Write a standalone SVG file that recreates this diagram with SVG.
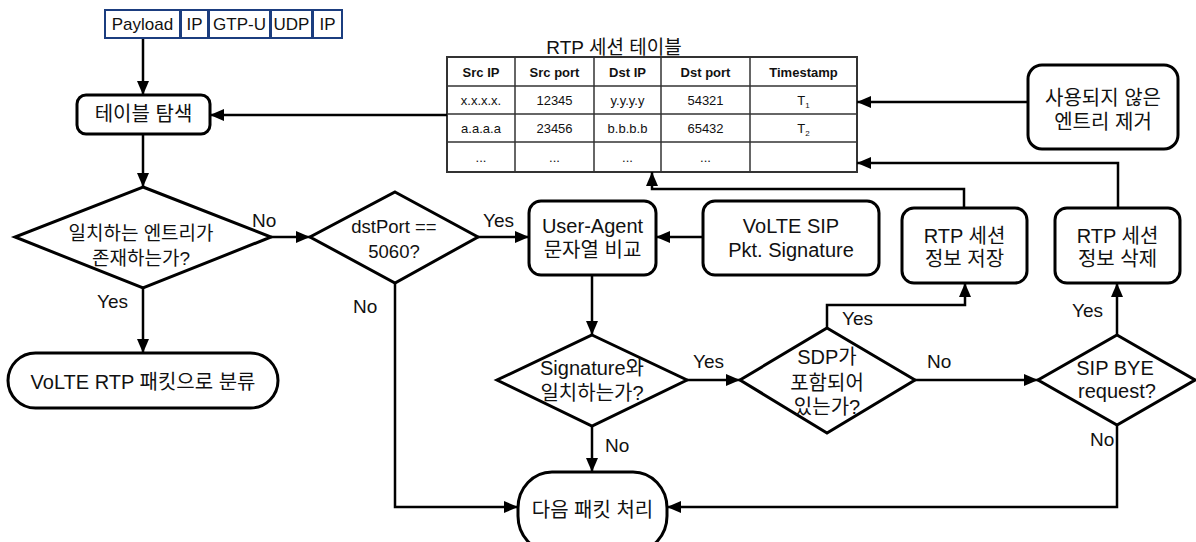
<svg xmlns="http://www.w3.org/2000/svg" width="1196" height="542" viewBox="0 0 1196 542">
  <style>
    text { font-family: "Liberation Sans", "Noto Sans CJK KR", Arial, sans-serif; fill: #111; text-anchor: middle; }
    .node { fill: #fff; stroke: #000; stroke-width: 3; }
    .hdr { fill: #fff; stroke: #1b3d7f; stroke-width: 2; }
    .t20 { font-size: 20px; }
    .t19 { font-size: 19px; }
    .lbl { font-size: 19px; text-anchor: start; }
    .conn { fill: none; stroke: #000; stroke-width: 2.5; marker-end: url(#arrow); }
    .grid { fill: #fff; stroke: #333; stroke-width: 2; }
    .gl { stroke: #333; stroke-width: 1.5; }
    .th { font-size: 13px; font-weight: bold; }
    .td { font-size: 13px; }
  </style>
  <defs>
    <marker id="arrow" markerUnits="userSpaceOnUse" markerWidth="15" markerHeight="12" refX="14" refY="6" orient="auto">
      <path d="M0,0 L14,6 L0,12 z" fill="#000"/>
    </marker>
  </defs>

  <!-- packet header -->
  <g id="packet">
    <rect class="hdr" x="105" y="10" width="75" height="28"/>
    <rect class="hdr" x="181" y="10" width="27" height="28"/>
    <rect class="hdr" x="209" y="10" width="61" height="28"/>
    <rect class="hdr" x="271" y="10" width="41" height="28"/>
    <rect class="hdr" x="313" y="10" width="29" height="28"/>
    <text x="142.5" y="30" font-size="17">Payload</text>
    <text x="194.5" y="30" font-size="17">IP</text>
    <text x="239.5" y="30" font-size="17">GTP-U</text>
    <text x="291.5" y="30" font-size="17">UDP</text>
    <text x="327.5" y="30" font-size="17">IP</text>
  </g>

  <!-- RTP session table -->
  <g id="table">
    <text x="614" y="54" font-size="19">RTP 세션 테이블</text>
    <rect class="grid" x="447" y="57" width="410" height="115"/>
    <line class="gl" x1="447" y1="86" x2="857" y2="86"/>
    <line class="gl" x1="447" y1="114" x2="857" y2="114"/>
    <line class="gl" x1="447" y1="142" x2="857" y2="142"/>
    <line class="gl" x1="515" y1="57" x2="515" y2="172"/>
    <line class="gl" x1="594" y1="57" x2="594" y2="172"/>
    <line class="gl" x1="661" y1="57" x2="661" y2="172"/>
    <line class="gl" x1="750" y1="57" x2="750" y2="172"/>
    <text class="th" x="481" y="77">Src IP</text>
    <text class="th" x="554.5" y="77">Src port</text>
    <text class="th" x="627.5" y="77">Dst IP</text>
    <text class="th" x="705.5" y="77">Dst port</text>
    <text class="th" x="803.5" y="77">Timestamp</text>
    <text class="td" x="481" y="105">x.x.x.x.</text>
    <text class="td" x="554.5" y="105">12345</text>
    <text class="td" x="627.5" y="105">y.y.y.y</text>
    <text class="td" x="705.5" y="105">54321</text>
    <text class="td" x="803.5" y="105">T<tspan font-size="8" dy="3">1</tspan></text>
    <text class="td" x="481" y="133">a.a.a.a</text>
    <text class="td" x="554.5" y="133">23456</text>
    <text class="td" x="627.5" y="133">b.b.b.b</text>
    <text class="td" x="705.5" y="133">65432</text>
    <text class="td" x="803.5" y="133">T<tspan font-size="8" dy="3">2</tspan></text>
    <text class="td" x="481" y="162">...</text>
    <text class="td" x="554.5" y="162">...</text>
    <text class="td" x="627.5" y="162">...</text>
    <text class="td" x="705.5" y="162">...</text>
  </g>

  <!-- process nodes -->
  <g id="lookup">
    <rect class="node" x="77" y="95" width="133" height="39" rx="9"/>
    <text class="t20" x="143.5" y="121">테이블 탐색</text>
  </g>
  <g id="cleanup">
    <rect class="node" x="1028" y="65" width="150" height="84" rx="14"/>
    <text class="t20" x="1103" y="105">사용되지 않은</text>
    <text class="t20" x="1103" y="129">엔트리 제거</text>
  </g>
  <g id="entry-exists">
    <polygon class="node" points="143,187 271,237 143,288 15,237"/>
    <text class="t19" x="141" y="240">일치하는 엔트리가</text>
    <text class="t19" x="141" y="265">존재하는가?</text>
  </g>
  <g id="classify-rtp">
    <rect class="node" x="8" y="353" width="270" height="55" rx="27.5"/>
    <text class="t20" x="143" y="389">VoLTE RTP 패킷으로 분류</text>
  </g>
  <g id="sip-port">
    <polygon class="node" points="395,192 478,237 395,283 310,237"/>
    <text x="394" y="233" font-size="18.5">dstPort ==</text>
    <text x="394" y="258" font-size="18.5">5060?</text>
  </g>
  <g id="ua-compare">
    <rect class="node" x="529" y="201" width="127" height="74" rx="12"/>
    <text class="t20" x="592.5" y="233">User-Agent</text>
    <text class="t20" x="592.5" y="257">문자열 비교</text>
  </g>
  <g id="sip-signature">
    <rect class="node" x="703" y="201" width="176" height="74" rx="12"/>
    <text class="t20" x="791" y="233">VoLTE SIP</text>
    <text class="t20" x="791" y="257">Pkt. Signature</text>
  </g>
  <g id="store-session">
    <rect class="node" x="902" y="208" width="125" height="75" rx="12"/>
    <text class="t20" x="964.5" y="243">RTP 세션</text>
    <text class="t20" x="964.5" y="266">정보 저장</text>
  </g>
  <g id="delete-session">
    <rect class="node" x="1055" y="208" width="125" height="75" rx="12"/>
    <text class="t20" x="1117.5" y="243">RTP 세션</text>
    <text class="t20" x="1117.5" y="266">정보 삭제</text>
  </g>
  <g id="signature-match">
    <polygon class="node" points="592,335 687,380 592,426 497,380"/>
    <text class="t20" x="592" y="375">Signature와</text>
    <text class="t20" x="592" y="400">일치하는가?</text>
  </g>
  <g id="has-sdp">
    <polygon class="node" points="827,328 915,380 827,433 740,380"/>
    <text class="t20" x="827" y="364">SDP가</text>
    <text class="t20" x="827" y="390">포함되어</text>
    <text class="t20" x="827" y="414">있는가?</text>
  </g>
  <g id="sip-bye">
    <polygon class="node" points="1117,335 1195,380 1117,425 1038,380"/>
    <text class="t20" x="1115" y="375">SIP BYE</text>
    <text class="t20" x="1117" y="398">request?</text>
  </g>
  <g id="next-packet">
    <rect class="node" x="518" y="472" width="149" height="80" rx="34" ry="36"/>
    <text class="t20" x="592.5" y="517">다음 패킷 처리</text>
  </g>

  <!-- connectors -->
  <g id="connectors">
    <path class="conn" d="M143,39 V95"/>
    <path class="conn" d="M447,115 H210"/>
    <path class="conn" d="M143,134 V187"/>
    <path class="conn" d="M143,288 V353"/>
    <path class="conn" d="M271,237 H310"/>
    <path class="conn" d="M478,237 H529"/>
    <path class="conn" d="M395,283 V507 H518"/>
    <path class="conn" d="M703,237 H656"/>
    <path class="conn" d="M592,275 V335"/>
    <path class="conn" d="M592,426 V472"/>
    <path class="conn" d="M687,380 H740"/>
    <path class="conn" d="M915,380 H1038"/>
    <path class="conn" d="M827,328 V305 H965 V283"/>
    <path class="conn" d="M1117,335 V283"/>
    <path class="conn" d="M1117,425 V507 H667"/>
    <path class="conn" d="M964,208 V189 H652 V172"/>
    <path class="conn" d="M1118,208 V163 H857"/>
    <path class="conn" d="M1028,102 H857"/>
    <text class="lbl" x="252" y="227">No</text>
    <text class="lbl" x="97" y="308">Yes</text>
    <text class="lbl" x="483" y="227">Yes</text>
    <text class="lbl" x="353" y="313">No</text>
    <text class="lbl" x="605" y="452">No</text>
    <text class="lbl" x="693" y="368">Yes</text>
    <text class="lbl" x="842" y="325">Yes</text>
    <text class="lbl" x="927" y="368">No</text>
    <text class="lbl" x="1072" y="317">Yes</text>
    <text class="lbl" x="1090" y="446">No</text>
  </g>
</svg>
